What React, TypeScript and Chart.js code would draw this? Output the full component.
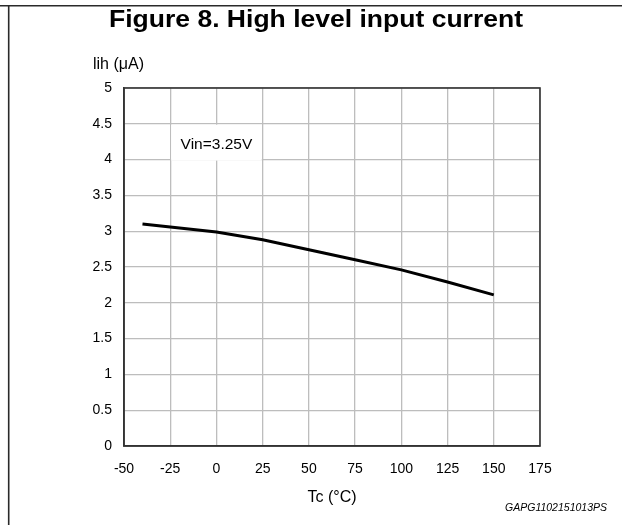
import React, { useEffect, useRef } from "react";
import { Chart, registerables } from "chart.js";

Chart.register(...registerables);

const temperatures = [-40, 0, 25, 50, 75, 100, 125, 150];
const currents = [3.1, 2.99, 2.88, 2.74, 2.6, 2.46, 2.29, 2.11];
const xTickValues = [-50, -25, 0, 25, 50, 75, 100, 125, 150, 175];
const yTickValues = [0, 0.5, 1, 1.5, 2, 2.5, 3, 3.5, 4, 4.5, 5];

const chartTitle = "Figure 8. High level input current";
const yAxisLabel = "lih (μA)";
const xAxisLabel = "Tc (°C)";
const conditionLabel = "Vin=3.25V";
const figureCode = "GAPG1102151013PS";

const FONT = '"Liberation Sans", Arial, sans-serif';

const decorPlugin = {
  id: "decor",
  beforeDatasetsDraw(chart: any) {
    const { ctx, scales } = chart;
    const xs = scales.x;
    const ys = scales.y;
    const x1 = xs.getPixelForValue(-25) + 0.9;
    const x2 = xs.getPixelForValue(25) - 0.9;
    const y1 = ys.getPixelForValue(4.5) + 0.9;
    const y2 = ys.getPixelForValue(4.0) + 1;
    ctx.save();
    ctx.fillStyle = "#ffffff";
    ctx.fillRect(x1, y1, x2 - x1, y2 - y1);
    ctx.fillStyle = "#000";
    ctx.font = `15.5px ${FONT}`;
    ctx.textAlign = "center";
    ctx.textBaseline = "middle";
    ctx.fillText(conditionLabel, xs.getPixelForValue(0), (y1 + y2) / 2 + 2);
    ctx.restore();
  },
  afterDraw(chart: any) {
    const { ctx, chartArea } = chart;
    ctx.save();
    // plot frame
    ctx.strokeStyle = "#333";
    ctx.lineWidth = 1.6;
    ctx.strokeRect(chartArea.left, chartArea.top, chartArea.right - chartArea.left, chartArea.bottom - chartArea.top);
    // page frame
    ctx.strokeStyle = "#2a2a2a";
    ctx.lineWidth = 1.6;
    ctx.beginPath();
    ctx.moveTo(0, 5.7);
    ctx.lineTo(622, 5.7);
    ctx.moveTo(8.7, 5.7);
    ctx.lineTo(8.7, 525);
    ctx.stroke();
    // title
    ctx.fillStyle = "#000";
    ctx.font = `bold 24px ${FONT}`;
    const w = ctx.measureText(chartTitle).width;
    ctx.save();
    ctx.translate(316, 27);
    ctx.scale(414 / w, 1);
    ctx.textAlign = "center";
    ctx.textBaseline = "alphabetic";
    ctx.fillText(chartTitle, 0, 0);
    ctx.restore();
    // y axis label
    ctx.font = `16px ${FONT}`;
    ctx.textAlign = "left";
    ctx.textBaseline = "middle";
    ctx.fillText(yAxisLabel, 93, 65);
    // x axis label
    ctx.textAlign = "center";
    ctx.fillText(xAxisLabel, (chartArea.left + chartArea.right) / 2, 498);
    // figure code
    ctx.font = `italic 10.5px ${FONT}`;
    ctx.textAlign = "right";
    ctx.fillText(figureCode, 607, 508);
    ctx.restore();
  },
};

export default function App() {
  const ref = useRef<HTMLCanvasElement | null>(null);
  useEffect(() => {
    if (!ref.current) return;
    const chart = new Chart(ref.current, {
      type: "line",
      data: {
        datasets: [
          {
            data: temperatures.map((t, i) => ({ x: t, y: currents[i] })),
            borderColor: "#000",
            borderWidth: 3,
            pointRadius: 0,
            tension: 0,
            fill: false,
          },
        ],
      },
      options: {
        responsive: false,
        animation: false,
        devicePixelRatio: 1,
        layout: { padding: { left: 0, top: 88, right: 82, bottom: 19 } },
        plugins: { legend: { display: false }, tooltip: { enabled: false }, title: { display: false } },
        scales: {
          x: {
            type: "linear",
            min: -50,
            max: 175,
            afterBuildTicks: (s: any) => {
              s.ticks = xTickValues.map((v) => ({ value: v }));
            },
            afterFit: (s: any) => {
              s.height = 60;
            },
            ticks: {
              color: "#000",
              font: { family: FONT, size: 14 },
              padding: 15,
              maxRotation: 0,
              autoSkip: false,
              callback: (v: any) => String(v),
            },
            grid: { color: "#bdbdbd", lineWidth: 1.3, drawTicks: false },
            border: { display: true, color: "#333", width: 1.6 },
          },
          y: {
            type: "linear",
            min: 0,
            max: 5,
            afterBuildTicks: (s: any) => {
              s.ticks = yTickValues.map((v) => ({ value: v }));
            },
            afterFit: (s: any) => {
              s.width = 124;
            },
            ticks: {
              color: "#000",
              font: { family: FONT, size: 14 },
              padding: 12,
              autoSkip: false,
              callback: (v: any) => String(v),
            },
            grid: { color: "#bdbdbd", lineWidth: 1.3, drawTicks: false },
            border: { display: true, color: "#333", width: 1.6 },
          },
        },
      },
      plugins: [decorPlugin],
    });
    return () => chart.destroy();
  }, []);
  return (
    <div style={{ position: "fixed", left: 0, top: 0, width: 622, height: 525, background: "#fff" }}>
      <canvas ref={ref} width={622} height={525} style={{ display: "block", width: 622, height: 525 }} />
    </div>
  );
}
